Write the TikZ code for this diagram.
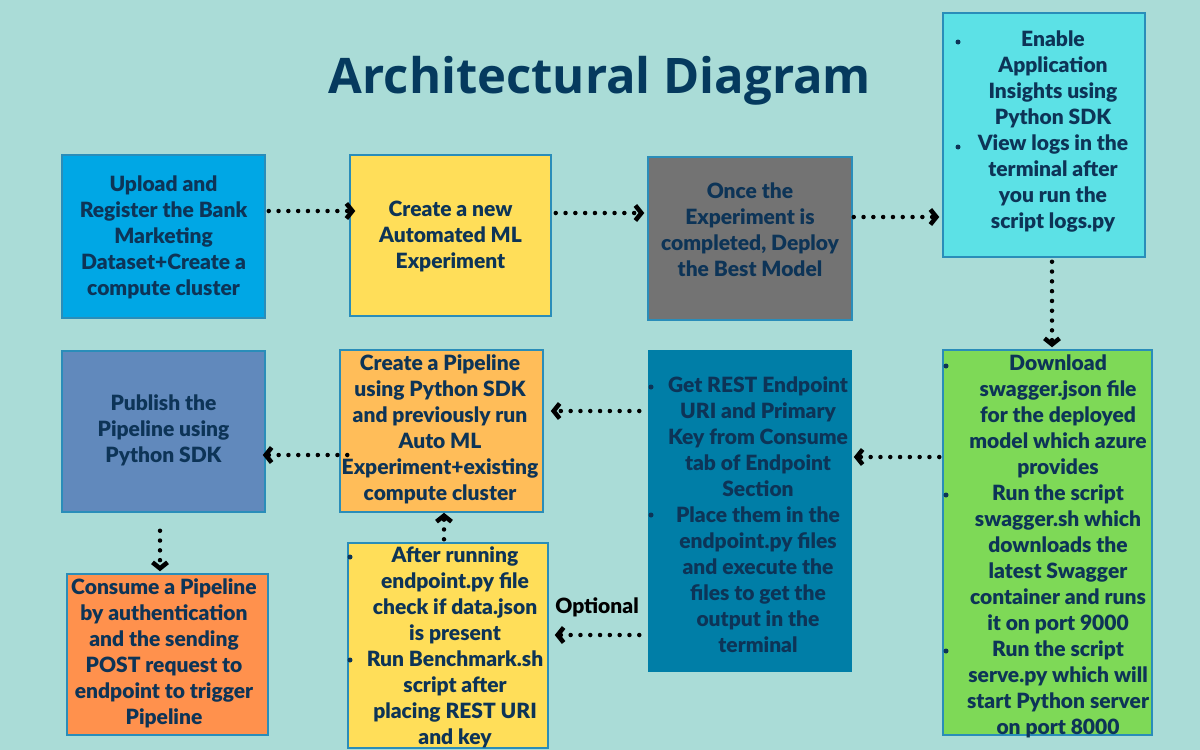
\documentclass[tikz,border=0pt]{standalone}
\usepackage{fontspec}
\setmainfont{Lato}[BoldFont={Lato Black}]
\newfontfamily\titlefont{Open Sans}
\usetikzlibrary{arrows.meta}
\definecolor{bg}{HTML}{AADCD7}
\definecolor{navy}{HTML}{0D3457}
\definecolor{titlecol}{HTML}{053A5E}
\definecolor{boxline}{HTML}{2A8DB9}
\definecolor{cblue}{HTML}{00A7E5}
\definecolor{cyellow}{HTML}{FFDE59}
\definecolor{cgray}{HTML}{737373}
\definecolor{ccyan}{HTML}{5CE1E6}
\definecolor{cgreen}{HTML}{7ED957}
\definecolor{cteal}{HTML}{007EA7}
\definecolor{corange}{HTML}{FFBD59}
\definecolor{csteel}{HTML}{6189BC}
\definecolor{cred}{HTML}{FF914D}
\newcommand\bodyfont{\fontsize{21}{26}\selectfont\bfseries}
\begin{document}
\begin{tikzpicture}[x=1pt,y=-1pt,
  box/.style={draw=boxline, line width=1.5pt, inner sep=0pt},
  txt/.style={font=\bodyfont, text=navy, align=center, inner sep=0pt},
  bul/.style={circle, fill=navy, inner sep=0pt, minimum size=5pt},
  arr/.style={line width=4.5pt, line cap=round, dash pattern=on 0pt off 9.8pt,
    -{Straight Barb[length=6pt,width=15pt,line width=4.5pt]}}]
\useasboundingbox[fill=bg] (0,0) rectangle (1200,750);

\node[font=\titlefont\bfseries\fontsize{49}{56}\selectfont, text=titlecol] (title) at (600,81) {Architectural Diagram};

% boxes
\node[box, fill=cblue, minimum width=203pt, minimum height=163pt] (b1) at (163.5,236.5) {};
\node[box, fill=cyellow, minimum width=201pt, minimum height=161pt] (b2) at (450.5,235.5) {};
\node[box, fill=cgray, minimum width=204pt, minimum height=163pt] (b3) at (750,238.5) {};
\node[box, fill=ccyan, minimum width=202pt, minimum height=244pt] (b4) at (1044,135) {};
\node[box, fill=cgreen, minimum width=209pt, minimum height=385pt] (b5) at (1047.5,542.5) {};
\node[box, draw=none, fill=cteal, minimum width=204pt, minimum height=322pt] (b6) at (750,511) {};
\node[box, fill=corange, minimum width=203pt, minimum height=162pt] (b7) at (441.5,431) {};
\node[box, fill=cyellow, minimum width=200pt, minimum height=205pt] (b8) at (448,645.5) {};
\node[box, fill=csteel, minimum width=203pt, minimum height=161pt] (b9) at (163.5,431.5) {};
\node[box, fill=cred, minimum width=201pt, minimum height=161pt] (b10) at (167.5,654.5) {};

% texts
\node[txt] (t1) at (163.5,237) {Upload and\\Register the Bank\\Marketing\\Dataset+Create a\\compute cluster};
\node[txt] (t2) at (450.5,236) {Create a new\\Automated ML\\Experiment};
\node[txt] (t3) at (750,230) {Once the\\Experiment is\\completed, Deploy\\the Best Model};
\node[txt] (t4) at (1053,132) {Enable\\Application\\Insights using\\Python SDK\\View logs in the\\terminal after\\you run the\\script logs.py};
\node[txt] (t5) at (1058,546) {Download\\swagger.json file\\for the deployed\\model which azure\\provides\\Run the script\\swagger.sh which\\downloads the\\latest Swagger\\container and runs\\it on port 9000\\Run the script\\serve.py which will\\start Python server\\on port 8000};
\node[txt] (t6) at (758,515) {Get REST Endpoint\\URI and Primary\\Key from Consume\\tab of Endpoint\\Section\\Place them in the\\endpoint.py files\\and execute the\\files to get the\\output in the\\terminal};
\node[txt] (t7) at (440,429) {Create a Pipeline\\using Python SDK\\and previously run\\Auto ML\\Experiment+existing\\compute cluster};
\node[txt] (t8) at (455,647) {After running\\endpoint.py file\\check if data.json\\is present\\Run Benchmark.sh\\script after\\placing REST URI\\and key};
\node[txt] (t9) at (163.5,430) {Publish the\\Pipeline using\\Python SDK};
\node[txt] (t10) at (164,653) {Consume a Pipeline\\by authentication\\and the sending\\POST request to\\endpoint to trigger\\Pipeline};
\node[font=\bodyfont, text=black, inner sep=0pt] (opt) at (597,607) {Optional};

% bullets
\node[bul] (u1) at (958,42) {};
\node[bul] (u2) at (958,147) {};
\node[bul] (u3) at (946,366) {};
\node[bul] (u4) at (946,495) {};
\node[bul] (u5) at (946,651) {};
\node[bul] (u6) at (651,387) {};
\node[bul] (u7) at (651,515) {};
\node[bul] (u8) at (350,557) {};
\node[bul] (u9) at (350,660) {};

% arrows
\draw[arr, shorten <=3pt, shorten >=-6pt] ([yshift=25.5pt]b1.east) -- ([yshift=25.5pt]b1.east -| b2.west);
\draw[arr, shorten <=4pt, shorten >=3pt] ([yshift=22.5pt]b2.east) -- ([yshift=22.5pt]b2.east -| b3.west);
\draw[arr, shorten <=1pt, shorten >=3pt] ([yshift=21.5pt]b3.east) -- ([yshift=21.5pt]b3.east -| b4.west);
\draw[arr, shorten <=4pt, shorten >=2pt] ([xshift=8pt]b4.south) -- ([xshift=8pt]b4.south |- b5.north);
\draw[arr, shorten <=3pt, shorten >=1pt] ([yshift=85.5pt]b5.west) -- ([yshift=85.5pt]b5.west -| b6.east);
\draw[arr, shorten <=8pt, shorten >=7pt] ([yshift=100pt]b6.west) -- ([yshift=100pt]b6.west -| b7.east);
\draw[arr, shorten <=-8pt, shorten >=-3pt] ([yshift=-24pt]b7.west) -- ([yshift=-24pt]b7.west -| b9.east);
\draw[arr, shorten <=18pt, shorten >=2pt] ([xshift=-3.5pt]b9.south) -- ([xshift=-3.5pt]b9.south |- b10.north);
\draw[arr, shorten <=3pt, shorten >=0pt] ([xshift=-4pt]b8.north) -- ([xshift=-4pt]b8.north |- b7.south);
\draw[arr, shorten <=8pt, shorten >=6pt] ([yshift=-124pt]b6.west) -- ([yshift=-124pt]b6.west -| b8.east);
\end{tikzpicture}
\end{document}
